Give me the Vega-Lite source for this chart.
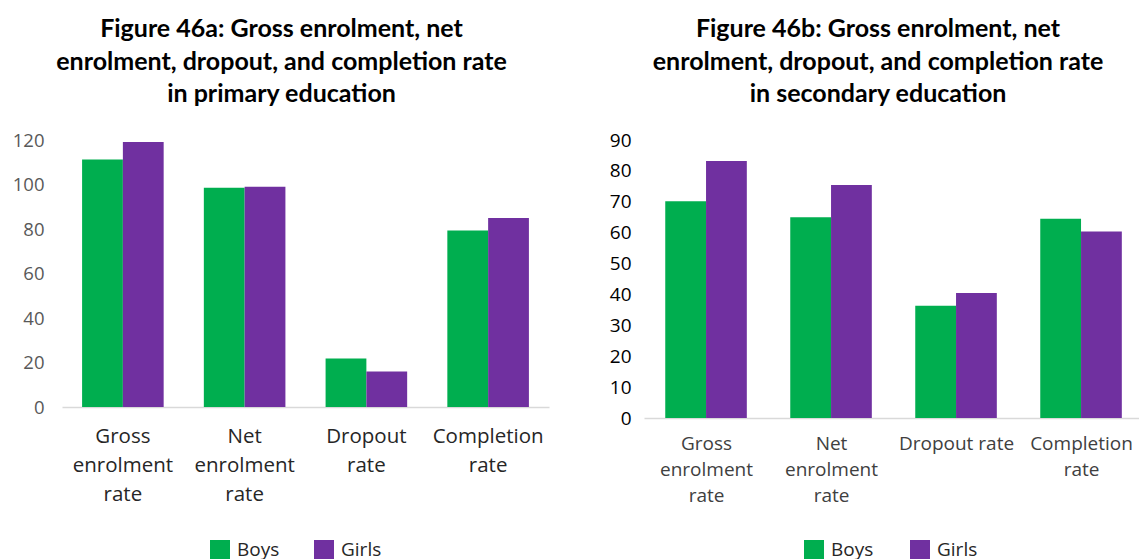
{
  "$schema": "https://vega.github.io/schema/vega-lite/v6.json",
  "padding": {"left": 12, "top": 17, "right": 0, "bottom": 0},
  "bounds": "flush",
  "spacing": 95,
  "background": "white",
  "config": {
    "view": {"stroke": null},
    "font": "Open Sans",
    "bar": {"stroke": null}
  },
  "datasets": {
    "primary": [
      {"category": "Gross enrolment rate", "sex": "Boys", "value": 111.2},
      {"category": "Gross enrolment rate", "sex": "Girls", "value": 119.1},
      {"category": "Net enrolment rate", "sex": "Boys", "value": 98.5},
      {"category": "Net enrolment rate", "sex": "Girls", "value": 99.0},
      {"category": "Dropout rate", "sex": "Boys", "value": 21.8},
      {"category": "Dropout rate", "sex": "Girls", "value": 16.0},
      {"category": "Completion rate", "sex": "Boys", "value": 79.3},
      {"category": "Completion rate", "sex": "Girls", "value": 85.0}
    ],
    "secondary": [
      {"category": "Gross enrolment rate", "sex": "Boys", "value": 70.2},
      {"category": "Gross enrolment rate", "sex": "Girls", "value": 83.2},
      {"category": "Net enrolment rate", "sex": "Boys", "value": 65.0},
      {"category": "Net enrolment rate", "sex": "Girls", "value": 75.4},
      {"category": "Dropout rate", "sex": "Boys", "value": 36.3},
      {"category": "Dropout rate", "sex": "Girls", "value": 40.5},
      {"category": "Completion rate", "sex": "Boys", "value": 64.5},
      {"category": "Completion rate", "sex": "Girls", "value": 60.4}
    ]
  },
  "resolve": {"scale": {"color": "independent"}, "legend": {"color": "independent"}},
  "hconcat": [
    {
      "width": 487,
      "height": 267,
      "data": {"name": "primary"},
      "title": {
        "text": ["Figure 46a: Gross enrolment, net", "enrolment, dropout, and completion rate", "in primary education"],
        "anchor": "middle",
        "frame": "group",
        "font": "Lato",
        "fontSize": 25,
        "fontWeight": "bold",
        "lineHeight": 32.5,
        "offset": 24,
        "dx": -24,
        "color": "#000000"
      },
      "mark": {"type": "bar"},
      "encoding": {
        "x": {
          "field": "category", "type": "nominal", "sort": null,
          "scale": {"paddingInner": 0.33, "paddingOuter": 0.165},
          "axis": {
            "title": null, "labelAngle": 0,
            "labelExpr": "datum.value == 'Gross enrolment rate' ? ['Gross','enrolment','rate'] : datum.value == 'Net enrolment rate' ? ['Net','enrolment','rate'] : datum.value == 'Dropout rate' ? ['Dropout','rate'] : ['Completion','rate']",
            "labelFontSize": 20.5, "labelLineHeight": 29, "labelPadding": 19,
            "ticks": false, "domainColor": "#d9d9d9", "domainWidth": 1.5,
            "labelColor": "#262626"
          }
        },
        "xOffset": {"field": "sex", "sort": ["Boys", "Girls"]},
        "y": {
          "field": "value", "type": "quantitative",
          "scale": {"domain": [0, 120]},
          "axis": {
            "title": null, "values": [0, 20, 40, 60, 80, 100, 120],
            "grid": false, "domain": false, "ticks": false,
            "labelPadding": 18, "labelFontSize": 18.5, "labelColor": "#595959"
          }
        },
        "color": {
          "field": "sex", "type": "nominal",
          "scale": {"domain": ["Boys", "Girls"], "range": ["#00AE4F", "#7030A0"]},
          "legend": {
            "orient": "none", "legendX": 148, "legendY": 400, "direction": "horizontal",
            "title": null, "symbolType": "square",
            "symbolSize": 400, "symbolStrokeWidth": 0, "labelFontSize": 19,
            "labelOffset": 7, "labelColor": "#262626", "columnPadding": 34
          }
        }
      }
    },
    {
      "width": 500,
      "height": 278,
      "data": {"name": "secondary"},
      "title": {
        "text": ["Figure 46b: Gross enrolment, net", "enrolment, dropout, and completion rate", "in secondary education"],
        "anchor": "middle",
        "frame": "group",
        "font": "Lato",
        "fontSize": 25,
        "fontWeight": "bold",
        "lineHeight": 32.5,
        "offset": 24,
        "dx": -16,
        "color": "#000000"
      },
      "mark": {"type": "bar"},
      "encoding": {
        "x": {
          "field": "category", "type": "nominal", "sort": null,
          "scale": {"paddingInner": 0.34, "paddingOuter": 0.17},
          "axis": {
            "title": null, "labelAngle": 0,
            "labelExpr": "datum.value == 'Gross enrolment rate' ? ['Gross','enrolment','rate'] : datum.value == 'Net enrolment rate' ? ['Net','enrolment','rate'] : datum.value == 'Dropout rate' ? 'Dropout rate' : ['Completion','rate']",
            "labelFontSize": 19, "labelLineHeight": 26, "labelPadding": 16,
            "ticks": false, "domainColor": "#d9d9d9", "domainWidth": 1.5,
            "labelColor": "#404040"
          }
        },
        "xOffset": {"field": "sex", "sort": ["Boys", "Girls"]},
        "y": {
          "field": "value", "type": "quantitative",
          "scale": {"domain": [0, 90]},
          "axis": {
            "title": null, "values": [0, 10, 20, 30, 40, 50, 60, 70, 80, 90],
            "grid": false, "domain": false, "ticks": false,
            "labelPadding": 13, "labelFontSize": 19, "labelColor": "#000000"
          }
        },
        "color": {
          "field": "sex", "type": "nominal",
          "scale": {"domain": ["Boys", "Girls"], "range": ["#00AE4F", "#7030A0"]},
          "legend": {
            "orient": "none", "legendX": 160, "legendY": 400, "direction": "horizontal",
            "title": null, "symbolType": "square",
            "symbolSize": 400, "symbolStrokeWidth": 0, "labelFontSize": 19,
            "labelOffset": 7, "labelColor": "#262626", "columnPadding": 36
          }
        }
      }
    }
  ]
}
